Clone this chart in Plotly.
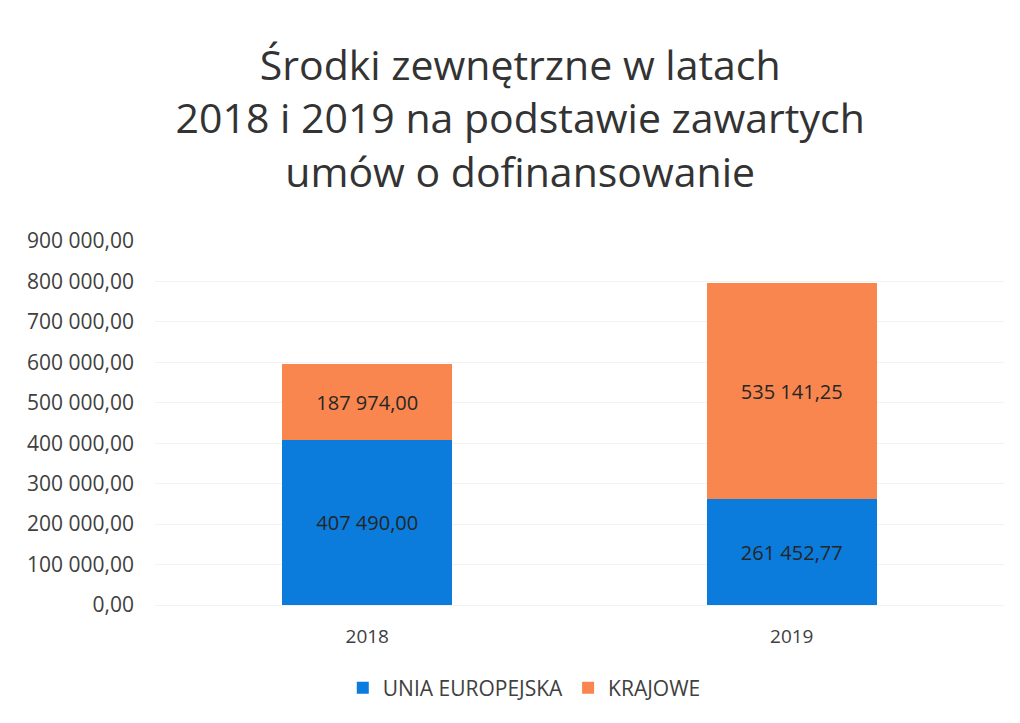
import plotly.graph_objects as go

years = ["2018", "2019"]
ue_values = [407490.00, 261452.77]
krajowe_values = [187974.00, 535141.25]
series_names = ["UNIA EUROPEJSKA", "KRAJOWE"]
y_ticks = [0, 100000, 200000, 300000, 400000, 500000, 600000, 700000, 800000, 900000]

FONT = "Open Sans"
fig = go.Figure()
fig.add_trace(go.Bar(
    x=years, y=ue_values, name=series_names[0],
    marker=dict(color="#0b7bdc", line=dict(width=0)),
    texttemplate="%{y:,.2f}", textposition="inside", insidetextanchor="middle",
    textfont=dict(family=FONT, size=20, color="#262626"),
))
fig.add_trace(go.Bar(
    x=years, y=krajowe_values, name=series_names[1],
    marker=dict(color="#f9864e", line=dict(width=0)),
    texttemplate="%{y:,.2f}", textposition="inside", insidetextanchor="middle",
    textfont=dict(family=FONT, size=20, color="#262626"),
))

fig.update_layout(
    barmode="stack",
    bargap=0.6,
    separators=", ",
    width=1020, height=723,
    paper_bgcolor="white", plot_bgcolor="white",
    margin=dict(l=155, r=16, t=241, b=118),
    font=dict(family=FONT, color="#404040"),
    title=dict(
        text="Środki zewnętrzne w latach<br>2018 i 2019 na podstawie zawartych<br>umów o dofinansowanie",
        x=0.51, xref="container", xanchor="center",
        y=1 - 80 / 723, yref="container", yanchor="middle",
        font=dict(family=FONT, size=41, color="#333333"),
    ),
    yaxis=dict(
        range=[0, 900000], tickvals=y_ticks, tickformat=",.2f",
        showgrid=True, gridcolor="#f2f2f2", zeroline=False,
        tickfont=dict(family=FONT, size=21, color="#404040"),
        ticks="", ticklabelstandoff=20,
    ),
    xaxis=dict(
        showgrid=False, showline=True, linecolor="#f2f2f2",
        tickfont=dict(family=FONT, size=19, color="#404040"),
        ticks="", ticklabelstandoff=14,
    ),
    legend=dict(
        orientation="h", xref="container", x=0.514, xanchor="center",
        yref="container", y=1 - 688 / 723, yanchor="middle",
        font=dict(family=FONT, size=21, color="#404040"),
        itemsizing="constant", traceorder="normal",
    ),
    showlegend=True,
)
fig.update_traces(cliponaxis=False)

fig.write_html(
    "out.html",
    config={"displayModeBar": False},
    post_script="document.body.style.margin='0';document.body.style.overflow='hidden';",
)
